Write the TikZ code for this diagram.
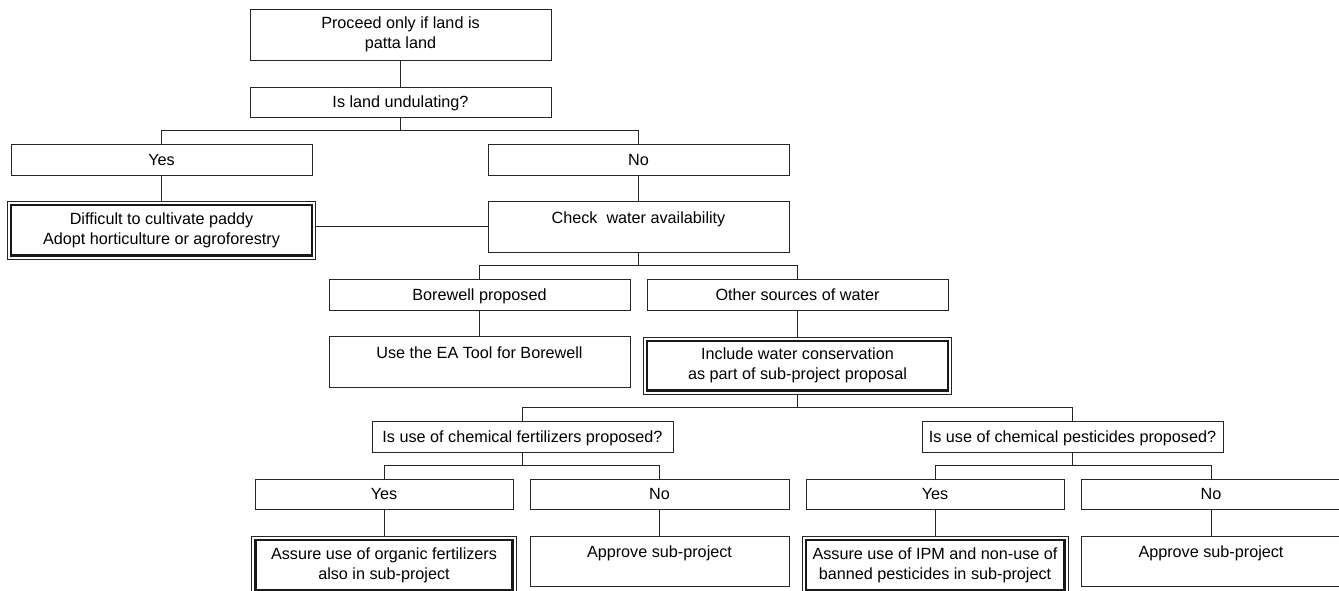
\documentclass[tikz,border=0pt]{standalone}
\usepackage{fontspec}
\setmainfont{Liberation Sans}
\usetikzlibrary{calc}

\tikzset{
  base/.style={draw=black!85, line width=0.9pt, rectangle, inner sep=0pt, outer sep=0pt,
    align=center, font=\fontsize{16.2}{20}\selectfont},
  onebox/.style={base, text height=14.5pt, text depth=3.2pt},
  twobox/.style={base},
  topbox/.style={base, anchor=north},
  dbox/.style={base, line width=0.8pt,
    path picture={\draw[black!90, line width=2.4pt]
      ([shift={(3.7pt,-3.7pt)}]path picture bounding box.north west) rectangle
      ([shift={(-3.7pt,3.7pt)}]path picture bounding box.south east);}},
  link/.style={draw=black!85, line width=0.9pt}
}

% straight drop from one box to the box below it
\newcommand\dropto[2]{\draw[link] (#1.south) -- (#1.south |- #2.north);}
% branch from one box to two boxes below it, bar half way down
\newcommand\forkto[3]{%
  \coordinate (#1-bar) at ($(#1.south)!.5!(#1.south |- #2.north)$);
  \draw[link] (#1.south) -- (#1-bar);
  \draw[link] (#2.north) |- (#1-bar) -| (#3.north);}

\begin{document}
\begin{tikzpicture}[x=1pt,y=-1pt]
\useasboundingbox (0,0) rectangle (1339,590);
\clip (0,0) rectangle (1339,590);
\fill[white] (0,0) rectangle (1339,590);

% first level
\node[twobox, minimum width=301pt, minimum height=51pt] (land) at (400.5,34.5)
  {Proceed only if land is\\patta land};
\node[onebox, minimum width=301pt, minimum height=30pt] (undul) at (400.5,102)
  {Is land undulating?};
\node[onebox, minimum width=301pt, minimum height=31pt] (yesA) at (161.5,159.5) {Yes};
\node[onebox, minimum width=301pt, minimum height=31pt] (noA) at (638.5,159.5) {No};
\node[dbox, minimum width=308pt, minimum height=58pt] (paddy) at (161.5,230.3)
  {Difficult to cultivate paddy\\Adopt horticulture or agroforestry};
\node[topbox, minimum width=301pt, text height=22pt, text depth=29pt] (water) at (638.5,201)
  {Check\ \ water availability};

% water source
\node[onebox, minimum width=301pt, minimum height=31pt] (bore) at (479.5,294.5) {Borewell proposed};
\node[onebox, minimum width=301pt, minimum height=31pt] (other) at (797.5,294.5) {Other sources of water};
\node[topbox, minimum width=301pt, text height=21.3pt, text depth=29.3pt] (eatool) at (479.5,336.7)
  {Use the EA Tool for Borewell};
\node[dbox, minimum width=308pt, minimum height=57pt] (conserve) at (797.5,365.5)
  {Include water conservation\\as part of sub-project proposal};

% chemicals
\node[onebox, minimum width=301pt, minimum height=31pt] (fert) at (522.5,436.5)
  {Is use of chemical fertilizers proposed?};
\node[onebox, minimum width=301pt, minimum height=31pt] (pest) at (1072.5,436.5)
  {Is use of chemical pesticides proposed?};
\node[onebox, minimum width=258pt, minimum height=30pt] (yesF) at (384,494) {Yes};
\node[onebox, minimum width=259pt, minimum height=30pt] (noF) at (659.5,494) {No};
\node[onebox, minimum width=258pt, minimum height=30pt] (yesP) at (935,494) {Yes};
\node[onebox, minimum width=260pt, minimum height=30pt] (noP) at (1211,494) {No};
\node[dbox, minimum width=264.4pt, minimum height=58pt] (organic) at (384,565)
  {Assure use of organic fertilizers\\also in sub-project};
\node[topbox, minimum width=259pt, text height=21.5pt, text depth=28.5pt] (okF) at (659.5,536)
  {Approve sub-project};
\node[dbox, minimum width=266pt, minimum height=58pt] (ipm) at (935,565)
  {Assure use of IPM and non-use of\\banned pesticides in sub-project};
\node[topbox, minimum width=260pt, text height=21.5pt, text depth=28.5pt] (okP) at (1211,536)
  {Approve sub-project};

% connectors
\dropto{land}{undul}
\forkto{undul}{yesA}{noA}
\dropto{yesA}{paddy}
\dropto{noA}{water}
\draw[link] (water.west) -- (water.west -| paddy.east);
\forkto{water}{bore}{other}
\dropto{bore}{eatool}
\dropto{other}{conserve}
\forkto{conserve}{fert}{pest}
\forkto{fert}{yesF}{noF}
\forkto{pest}{yesP}{noP}
\dropto{yesF}{organic}
\dropto{noF}{okF}
\dropto{yesP}{ipm}
\dropto{noP}{okP}
\end{tikzpicture}
\end{document}
